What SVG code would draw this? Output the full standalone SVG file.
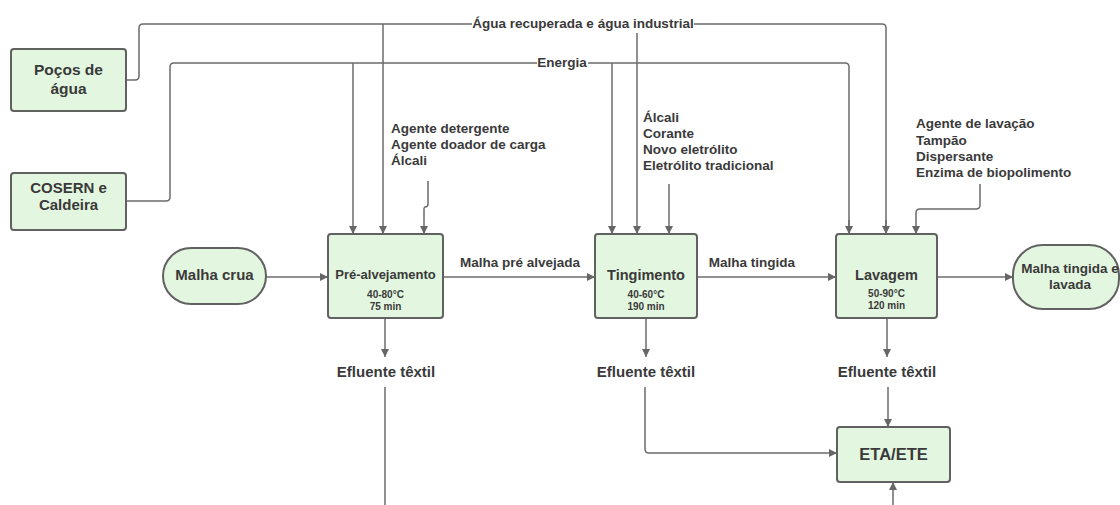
<svg xmlns="http://www.w3.org/2000/svg" width="1120" height="505" viewBox="0 0 1120 505">
  <defs>
    <marker id="arr" viewBox="0 0 10 10" refX="10" refY="5" markerWidth="8" markerHeight="8" markerUnits="userSpaceOnUse" orient="auto">
      <path d="M0,0 L10,5 L0,10 Z" fill="#666"/>
    </marker>
    <style>
      .box{fill:#e3f6df;stroke:#616161;stroke-width:2}
      .ln{fill:none;stroke:#6b6b6b;stroke-width:1.5}
      .ar{fill:none;stroke:#6b6b6b;stroke-width:1.5;marker-end:url(#arr)}
      text{font-family:"Liberation Sans",Arial,sans-serif;font-weight:bold;fill:#3a3a3a}
      .t16{font-size:15.5px;text-anchor:middle}
      .t15{font-size:15px;text-anchor:middle}
      .t14{font-size:14.5px;text-anchor:middle}
      .t13{font-size:13px;text-anchor:middle}
      .lbl{font-size:13.5px}
      .mid{text-anchor:middle}
      .sm{font-size:10px;text-anchor:middle}
    </style>
  </defs>
  <rect width="1120" height="505" fill="#fff"/>

  <!-- connectors -->
  <g id="connectors">
    <!-- water supply -->
    <path class="ln" d="M126 80 H135 Q139 80 139 76 V28 Q139 24 143 24 H472"/>
    <path class="ln" d="M694 24 H882 Q886 24 886 28 V226"/>
    <path class="ar" d="M886 220 V234"/>
    <path class="ar" d="M383 24 V234"/>
    <path class="ar" d="M637 33 V234"/>
    <!-- energy supply -->
    <path class="ln" d="M126 201 H166 Q170 201 170 197 V67 Q170 63 174 63 H537"/>
    <path class="ln" d="M588 63 H845 Q849 63 849 67 V226"/>
    <path class="ar" d="M849 220 V234"/>
    <path class="ar" d="M353 63 V234"/>
    <path class="ar" d="M612 63 V234"/>
    <!-- chemicals -->
    <path class="ar" d="M428 181 V204 Q428 207 425 207 Q424 207 424 210 V234"/>
    <path class="ar" d="M669 184 V234"/>
    <path class="ar" d="M980 184 V205 Q980 209 976 209 H920 Q916 209 916 213 V234"/>
    <!-- main flow -->
    <path class="ar" d="M266 277 H328"/>
    <path class="ar" d="M443 277 H595"/>
    <path class="ar" d="M697 277 H836"/>
    <path class="ar" d="M937 277 H1013"/>
    <!-- effluents -->
    <path class="ar" d="M385 318 V357"/>
    <path class="ar" d="M646 318 V357"/>
    <path class="ar" d="M887 318 V357"/>
    <path class="ln" d="M385 387 V505"/>
    <path class="ar" d="M645 387 V449 Q645 453 649 453 H837"/>
    <path class="ar" d="M888 387 V427"/>
    <path class="ar" d="M893 505 V482"/>
    <!-- connector labels -->
    <text class="lbl mid" x="583" y="28">Água recuperada e água industrial</text>
    <text class="lbl mid" x="562" y="67">Energia</text>
    <text class="lbl mid" x="520" y="267">Malha pré alvejada</text>
    <text class="lbl mid" x="752" y="267">Malha tingida</text>
  </g>

  <g id="pocos">
    <rect class="box" x="11" y="49" width="115" height="62" rx="3"/>
    <text class="t16" x="68.5" y="74.5">Poços de</text>
    <text class="t16" x="68.5" y="93.5">água</text>
  </g>

  <g id="cosern">
    <rect class="box" x="11" y="173" width="115" height="57" rx="3"/>
    <text class="t15" x="68.5" y="193">COSERN e</text>
    <text class="t15" x="68.5" y="210">Caldeira</text>
  </g>

  <g id="insumos-pre">
    <text class="lbl" x="391" y="133">Agente detergente</text>
    <text class="lbl" x="391" y="149">Agente doador de carga</text>
    <text class="lbl" x="391" y="165">Álcali</text>
  </g>

  <g id="insumos-tingimento">
    <text class="lbl" x="643" y="121.5">Álcali</text>
    <text class="lbl" x="643" y="137.5">Corante</text>
    <text class="lbl" x="643" y="154">Novo eletrólito</text>
    <text class="lbl" x="643" y="170">Eletrólito tradicional</text>
  </g>

  <g id="insumos-lavagem">
    <text class="lbl" x="916" y="128">Agente de lavação</text>
    <text class="lbl" x="916" y="144.5">Tampão</text>
    <text class="lbl" x="916" y="160.5">Dispersante</text>
    <text class="lbl" x="916" y="176.5">Enzima de biopolimento</text>
  </g>

  <g id="malha-crua">
    <rect class="box" x="163" y="248" width="103" height="56" rx="28"/>
    <text class="t15" x="214.5" y="279.5">Malha crua</text>
  </g>

  <g id="pre-alvejamento">
    <rect class="box" x="328" y="234" width="115" height="84" rx="3"/>
    <text class="t13" x="385.5" y="279">Pré-alvejamento</text>
    <text class="sm" x="385.5" y="297.5">40-80°C</text>
    <text class="sm" x="385.5" y="309.5">75 min</text>
  </g>

  <g id="tingimento">
    <rect class="box" x="595" y="234" width="102" height="84" rx="3"/>
    <text class="t14" x="646" y="280">Tingimento</text>
    <text class="sm" x="646" y="297.5">40-60°C</text>
    <text class="sm" x="646" y="309.5">190 min</text>
  </g>

  <g id="lavagem">
    <rect class="box" x="836" y="234" width="101" height="84" rx="3"/>
    <text class="t14" x="886.5" y="279.5">Lavagem</text>
    <text class="sm" x="886.5" y="297">50-90°C</text>
    <text class="sm" x="886.5" y="309">120 min</text>
  </g>

  <g id="malha-final">
    <rect class="box" x="1013" y="245" width="106" height="64" rx="30"/>
    <text class="lbl mid" x="1070" y="273">Malha tingida e</text>
    <text class="lbl mid" x="1070" y="289">lavada</text>
  </g>

  <g id="efluentes">
    <text class="t15" x="386" y="377">Efluente têxtil</text>
    <text class="t15" x="646" y="377">Efluente têxtil</text>
    <text class="t15" x="887" y="377">Efluente têxtil</text>
  </g>

  <g id="eta-ete">
    <rect class="box" x="837" y="427" width="113" height="55" rx="3"/>
    <text class="mid" style="font-size:16.5px" x="893.5" y="460">ETA/ETE</text>
  </g>
</svg>
